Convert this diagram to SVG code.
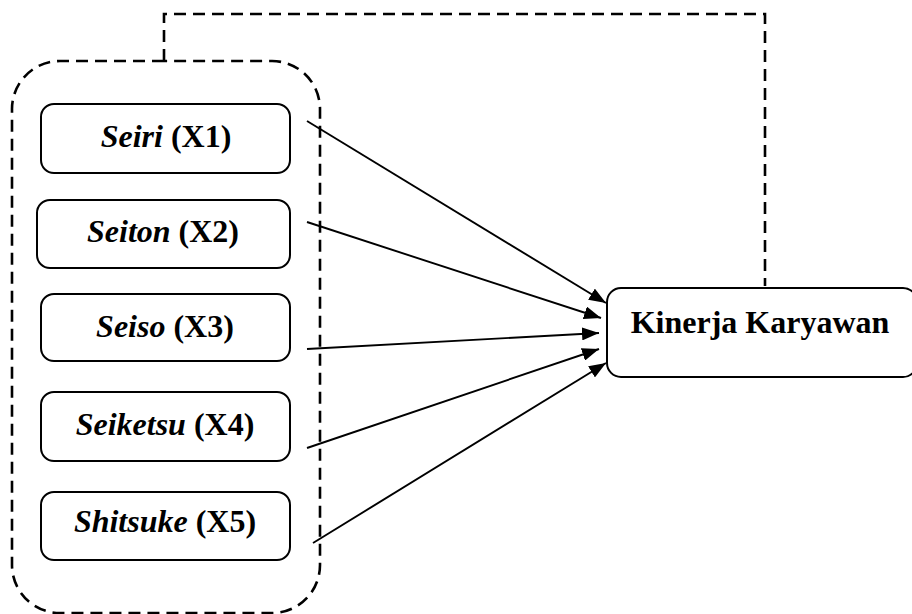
<svg xmlns="http://www.w3.org/2000/svg" width="912" height="614" viewBox="0 0 912 614">
<defs>
<style>
.box{fill:#fff;stroke:#000;stroke-width:2}
.dash{fill:none;stroke:#000;stroke-width:2.6;stroke-dasharray:12,7}
.arr{stroke:#000;stroke-width:1.9;fill:none}
text{font-family:"Liberation Serif","Times New Roman",serif;font-size:32px;fill:#000;text-anchor:middle}
.b{font-weight:bold}
.bi{font-weight:bold;font-style:italic}
</style>
<marker id="ah" markerWidth="17" markerHeight="13" viewBox="0 0 17 13" refX="17" refY="6.5" orient="auto" markerUnits="userSpaceOnUse">
<path d="M0,0 L17,6.5 L0,13 Z" fill="#000"/>
</marker>
</defs>
<rect width="912" height="614" fill="#fff"/>
<g id="group-frame">
<path class="dash" d="M164,61 H60 A48,48 0 0 0 12,109 V565 A48,48 0 0 0 60,613 H272 A48,48 0 0 0 320,565 V109 A48,48 0 0 0 272,61 H164"/>
</g>
<g id="connectors">
<path class="dash" d="M164,61 V14 H765 V286"/>
<line class="arr" x1="307" y1="121" x2="606" y2="303" marker-end="url(#ah)"/>
<line class="arr" x1="307" y1="222" x2="601" y2="318" marker-end="url(#ah)"/>
<line class="arr" x1="307" y1="349" x2="599" y2="333" marker-end="url(#ah)"/>
<line class="arr" x1="307" y1="448" x2="599" y2="349" marker-end="url(#ah)"/>
<line class="arr" x1="313" y1="543" x2="606" y2="363" marker-end="url(#ah)"/>
</g>
<g id="seiri">
<rect class="box" x="41" y="104" width="249" height="69" rx="13"/>
<text x="166" y="147"><tspan class="bi">Seiri</tspan> <tspan class="b">(X1)</tspan></text>
</g>
<g id="seiton">
<rect class="box" x="37" y="200" width="253" height="68" rx="13"/>
<text x="163" y="242"><tspan class="bi">Seiton</tspan> <tspan class="b">(X2)</tspan></text>
</g>
<g id="seiso">
<rect class="box" x="41" y="294" width="249" height="67" rx="13"/>
<text x="165" y="337"><tspan class="bi">Seiso</tspan> <tspan class="b">(X3)</tspan></text>
</g>
<g id="seiketsu">
<rect class="box" x="41" y="392" width="249" height="69" rx="13"/>
<text x="165" y="435"><tspan class="bi">Seiketsu</tspan> <tspan class="b">(X4)</tspan></text>
</g>
<g id="shitsuke">
<rect class="box" x="41" y="492" width="249" height="68" rx="13"/>
<text x="165" y="532"><tspan class="bi">Shitsuke</tspan> <tspan class="b">(X5)</tspan></text>
</g>
<g id="kinerja">
<rect class="box" x="607" y="288" width="310" height="89" rx="14"/>
<text class="b" x="760" y="333">Kinerja Karyawan</text>
</g>
</svg>
